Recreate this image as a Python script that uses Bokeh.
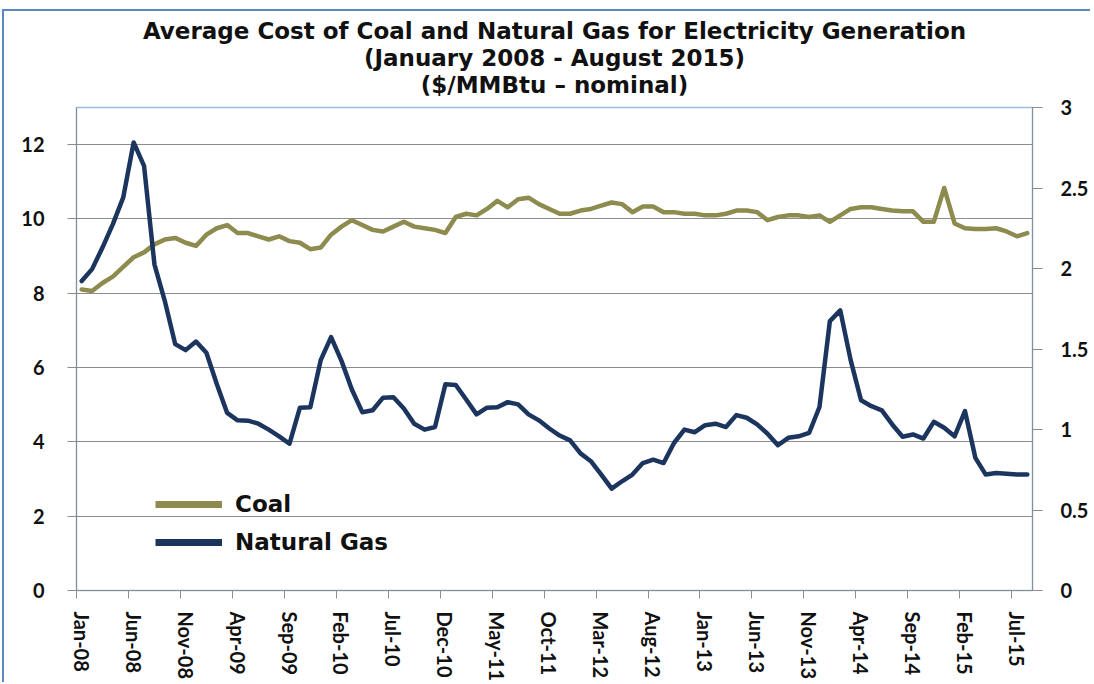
import pandas as pd
from bokeh.plotting import figure
from bokeh.models import (Range1d, LinearAxis, FixedTicker, NumeralTickFormatter,
                          Legend, LegendItem, Title, ColumnDataSource)
from bokeh.embed import file_html
from bokeh.resources import INLINE

# ---------------- data ----------------
months = [d.strftime("%b-%y") for d in pd.date_range("2008-01-01", "2015-08-01", freq="MS")]

# Natural gas, $/MMBtu (left axis)
natural_gas = [
    8.33, 8.65, 9.23, 9.86, 10.58, 12.06, 11.43, 8.78, 7.79, 6.63, 6.47, 6.70,   # 2008
    6.40, 5.56, 4.78, 4.58, 4.57, 4.49, 4.33, 4.15, 3.95, 4.92, 4.93, 6.20,      # 2009
    6.82, 6.18, 5.41, 4.80, 4.85, 5.19, 5.20, 4.90, 4.49, 4.33, 4.40, 5.55,      # 2010
    5.53, 5.14, 4.74, 4.92, 4.93, 5.07, 5.01, 4.74, 4.58, 4.36, 4.17, 4.04,      # 2011
    3.69, 3.48, 3.12, 2.74, 2.94, 3.12, 3.43, 3.52, 3.43, 3.97, 4.33, 4.26,      # 2012
    4.45, 4.49, 4.40, 4.72, 4.65, 4.47, 4.22, 3.91, 4.11, 4.15, 4.24, 4.94,      # 2013
    7.25, 7.54, 6.20, 5.12, 4.96, 4.85, 4.47, 4.14, 4.20, 4.09, 4.54, 4.38,      # 2014
    4.15, 4.83, 3.57, 3.12, 3.16, 3.14, 3.12, 3.12,                              # 2015
]

# Coal, $/MMBtu (right axis)
coal = [
    1.87, 1.86, 1.91, 1.95, 2.01, 2.07, 2.10, 2.15, 2.18, 2.19, 2.16, 2.14,      # 2008
    2.21, 2.25, 2.27, 2.22, 2.22, 2.20, 2.18, 2.20, 2.17, 2.16, 2.12, 2.13,      # 2009
    2.21, 2.26, 2.30, 2.27, 2.24, 2.23, 2.26, 2.29, 2.26, 2.25, 2.24, 2.22,      # 2010
    2.32, 2.34, 2.33, 2.37, 2.42, 2.38, 2.43, 2.44, 2.40, 2.37, 2.34, 2.34,      # 2011
    2.36, 2.37, 2.39, 2.41, 2.40, 2.35, 2.385, 2.385, 2.35, 2.35, 2.34, 2.34,    # 2012
    2.33, 2.33, 2.34, 2.36, 2.36, 2.35, 2.30, 2.32, 2.33, 2.33, 2.32, 2.33,      # 2013
    2.29, 2.33, 2.37, 2.38, 2.38, 2.37, 2.36, 2.355, 2.355, 2.29, 2.29, 2.50,    # 2014
    2.28, 2.25, 2.245, 2.245, 2.25, 2.23, 2.20, 2.22,                            # 2015
]

tick_labels = ["Jan-08", "Jun-08", "Nov-08", "Apr-09", "Sep-09", "Feb-10", "Jul-10",
               "Dec-10", "May-11", "Oct-11", "Mar-12", "Aug-12", "Jan-13", "Jun-13",
               "Nov-13", "Apr-14", "Sep-14", "Feb-15", "Jul-15"]

left_ticks = [0, 2, 4, 6, 8, 10, 12]
right_ticks = [0, 0.5, 1, 1.5, 2, 2.5, 3]

title_lines = ["Average Cost of Coal and Natural Gas for Electricity Generation",
               "(January 2008 - August 2015)",
               "($/MMBtu \u2013 nominal)"]

# ---------------- build ----------------
x_center = [i + 0.5 for i in range(len(months))]
src = ColumnDataSource(dict(x=x_center, gas=natural_gas, coal=coal, month=months))

GAS = "#1c355e"
COAL = "#8d8b4e"
GRID = "#8c8c8c"
TICK_FONT = "Lato"
TEXT_FONT = "DejaVu Sans"

W, H = 1088, 673
p = figure(width=W, height=H, output_backend="svg", toolbar_location=None,
           x_range=Range1d(0, len(months)), y_range=Range1d(0, 13),
           min_border_left=72, min_border_right=60, min_border_top=96,
           min_border_bottom=86)
p.title.visible = False
p.styles = {"position": "absolute", "left": "2px", "top": "9px",
            "border-left": "2px solid #5b87c5", "border-top": "2px solid #5b87c5"}

p.extra_y_ranges = {"coal": Range1d(0, 3)}
p.background_fill_color = "white"
p.border_fill_color = "white"
p.outline_line_color = "#9bbbe0"
p.outline_line_width = 1.5

# title lines above the frame (first added sits nearest the frame)
p.add_layout(Title(text=" ", text_font_size="1px", standoff=7), "above")
for txt in reversed(title_lines):
    p.add_layout(Title(text=txt, align="center", text_font=TEXT_FONT,
                       text_font_style="bold", text_font_size="23px",
                       text_color="#111111", standoff=-1), "above")

# grid
p.xgrid.visible = False
p.ygrid.ticker = FixedTicker(ticks=left_ticks)
p.ygrid.grid_line_color = GRID
p.ygrid.grid_line_width = 1

# left axis
la = p.yaxis[0]
la.ticker = FixedTicker(ticks=left_ticks)
la.axis_line_color = GRID
la.major_tick_line_color = GRID
la.major_tick_out = 9
la.major_tick_in = 0
la.minor_tick_line_color = None
la.major_label_standoff = 23
la.major_label_text_font = TICK_FONT
la.major_label_text_font_style = "bold"
la.major_label_text_font_size = "20px"
la.major_label_text_color = "#111111"

# right axis
ra = LinearAxis(y_range_name="coal", ticker=FixedTicker(ticks=right_ticks),
                formatter=NumeralTickFormatter(format="0.[0]"))
ra.axis_line_color = GRID
ra.major_tick_line_color = GRID
ra.major_tick_out = 10
ra.major_tick_in = 0
ra.minor_tick_line_color = None
ra.major_label_standoff = 18
ra.major_label_text_font = TICK_FONT
ra.major_label_text_font_style = "bold"
ra.major_label_text_font_size = "20px"
ra.major_label_text_color = "#111111"
p.add_layout(ra, "right")

# bottom axis: labels at category centres, tick marks at category boundaries
ba = p.xaxis[0]
label_pos = [months.index(t) + 0.5 for t in tick_labels]
bound_pos = [months.index(t) for t in tick_labels]
ba.ticker = FixedTicker(ticks=label_pos, minor_ticks=bound_pos)
ba.major_label_overrides = {pos: t for pos, t in zip(label_pos, tick_labels)}
ba.major_label_orientation = "vertical"
ba.axis_line_color = GRID
ba.major_tick_out = 0
ba.major_tick_in = 0
ba.major_tick_line_color = None
ba.minor_tick_out = 8
ba.minor_tick_in = 0
ba.minor_tick_line_color = GRID
ba.major_label_standoff = 13
ba.major_label_text_font = TICK_FONT
ba.major_label_text_font_style = "bold"
ba.major_label_text_font_size = "20px"
ba.major_label_text_color = "#111111"

# series
p.line("x", "coal", source=src, y_range_name="coal", line_color=COAL,
       line_width=4.5, line_join="round", line_cap="round")
p.line("x", "gas", source=src, line_color=GAS, line_width=4.5,
       line_join="round", line_cap="round")

# legend swatches (thicker, as in the reference); drawn off-range so only the legend shows them
off = ColumnDataSource(dict(x=[-5, -4], y=[-5, -5]))
lc = p.line("x", "y", source=off, line_color=COAL, line_width=7)
lg = p.line("x", "y", source=off, line_color=GAS, line_width=7)
legend = Legend(items=[LegendItem(label="Coal", renderers=[lc]),
                       LegendItem(label="Natural Gas", renderers=[lg])],
                location=(79, 33), orientation="vertical",
                border_line_color=None, background_fill_alpha=0,
                padding=0, margin=0, spacing=8,
                glyph_width=67, glyph_height=30, label_height=30,
                label_standoff=13, label_text_font=TEXT_FONT,
                label_text_font_style="bold", label_text_font_size="23px",
                label_text_color="#111111")
p.add_layout(legend, "center")

open("out.html", "w").write(file_html(p, INLINE))
